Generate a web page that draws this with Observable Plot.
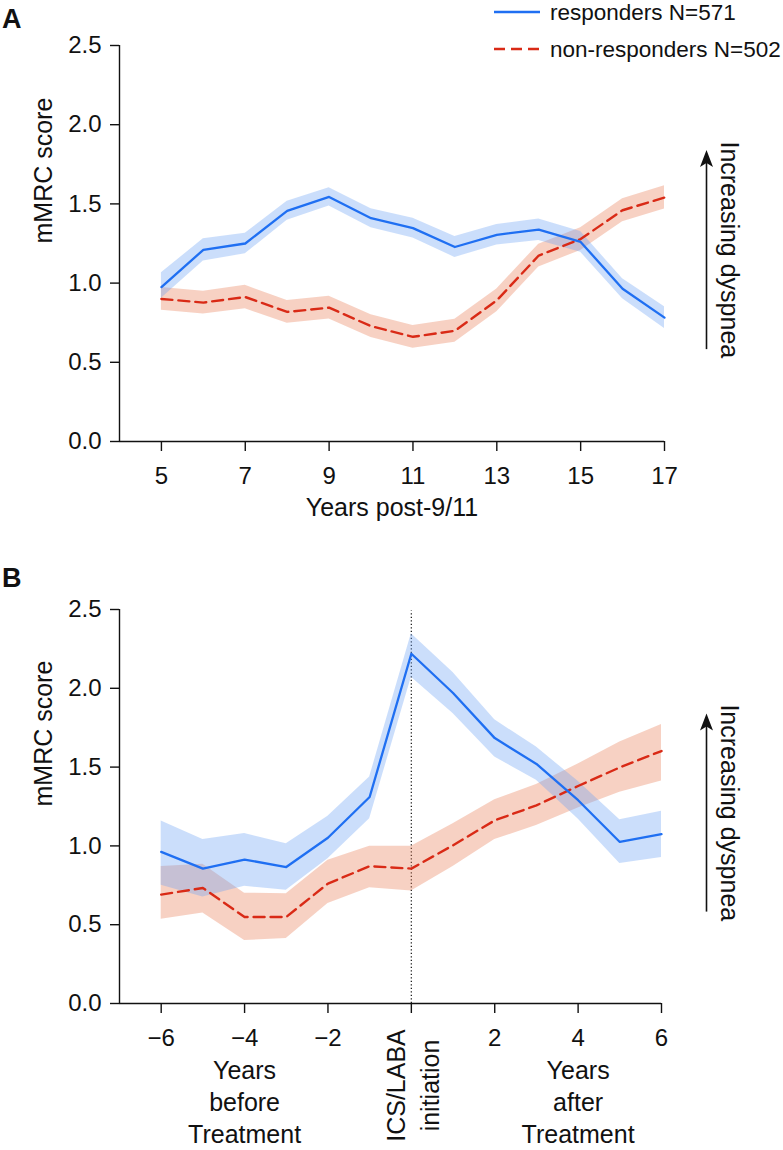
<!DOCTYPE html>
<html>
<head>
<meta charset="utf-8">
<script src="https://cdn.jsdelivr.net/npm/d3@7"></script>
<script src="https://cdn.jsdelivr.net/npm/@observablehq/plot@0.6"></script>
<style>
  body { margin: 0; background: #fff; }
  #wrap { position: relative; width: 783px; height: 1150px; overflow: hidden;
          font-family: "Liberation Sans", Arial, Helvetica, sans-serif; color: #111; }
  .panel { position: absolute; left: 0; }
  #overlay { position: absolute; left: 0; top: 0; pointer-events: none; }
</style>
</head>
<body>
<div id="wrap">
  <div id="panelA" class="panel" style="top:0px"></div>
  <div id="panelB" class="panel" style="top:560px"></div>
  <svg id="overlay" width="783" height="1150"></svg>
</div>
<script>
// ---------------- data ----------------
// Panel A: years post-9/11
const yearsA   = [5, 6, 7, 8, 9, 10, 11, 12, 13, 14, 15, 16, 17];
const respA    = [0.975, 1.21, 1.25, 1.456, 1.544, 1.41, 1.347, 1.228, 1.305, 1.337, 1.26, 0.964, 0.782];
const respALo  = [0.905, 1.14, 1.185, 1.396, 1.486, 1.35, 1.285, 1.162, 1.24, 1.269, 1.195, 0.901, 0.714];
const respAHi  = [1.065, 1.28, 1.315, 1.516, 1.602, 1.47, 1.409, 1.294, 1.37, 1.405, 1.325, 1.027, 0.85];
const nonA     = [0.90, 0.877, 0.912, 0.818, 0.845, 0.728, 0.661, 0.699, 0.891, 1.174, 1.278, 1.46, 1.54];
const nonALo   = [0.828, 0.805, 0.838, 0.746, 0.773, 0.656, 0.589, 0.627, 0.819, 1.102, 1.206, 1.388, 1.468];
const nonAHi   = [0.972, 0.949, 0.986, 0.89, 0.917, 0.80, 0.733, 0.771, 0.963, 1.246, 1.35, 1.532, 1.615];
const xDomainA = [4, 17];
const xTicksA  = [5, 7, 9, 11, 13, 15, 17];
const xTickLabelsA = ["5", "7", "9", "11", "13", "15", "17"];
const xTitleA  = "Years post-9/11";

// Panel B: years relative to ICS/LABA initiation
const yearsB   = [-6, -5, -4, -3, -2, -1, 0, 1, 2, 3, 4, 5, 6];
const respB    = [0.962, 0.856, 0.913, 0.866, 1.052, 1.31, 2.219, 1.97, 1.684, 1.52, 1.29, 1.025, 1.074];
const respBLo  = [0.75, 0.676, 0.744, 0.718, 0.919, 1.173, 2.07, 1.84, 1.564, 1.416, 1.17, 0.888, 0.926];
const respBHi  = [1.158, 1.04, 1.078, 1.014, 1.188, 1.437, 2.346, 2.10, 1.80, 1.627, 1.41, 1.166, 1.22];
const nonB     = [0.691, 0.733, 0.549, 0.549, 0.761, 0.871, 0.856, 1.004, 1.162, 1.257, 1.38, 1.498, 1.602];
const nonBLo   = [0.535, 0.575, 0.40, 0.412, 0.634, 0.735, 0.714, 0.87, 1.04, 1.13, 1.24, 1.34, 1.412];
const nonBHi   = [0.87, 0.883, 0.70, 0.697, 0.909, 0.997, 0.997, 1.14, 1.293, 1.39, 1.52, 1.66, 1.771];
const xDomainB = [-7, 6];
const xTicksB  = [-6, -4, -2, 0, 2, 4, 6];
const xTickLabelsB = ["\u22126", "\u22124", "\u22122", "", "2", "4", "6"];
const phaseX      = [-4, 4];
const phaseLabels = ["Years\nbefore\nTreatment", "Years\nafter\nTreatment"];
const initiationX = [0];
const initiationLabel = "ICS/LABA\ninitiation";

// shared
const yDomain     = [0, 2.5];
const yTicks      = [0, 0.5, 1, 1.5, 2, 2.5];
const yTickLabels = ["0.0", "0.5", "1.0", "1.5", "2.0", "2.5"];
const yTitle      = "mMRC score";
const seriesNames = ["responders N=571", "non-responders N=502"];
const dyspneaLabel = "Increasing dyspnea";
const arrowSpan   = [0.58, 1.84];   // score range covered by the direction arrow

// ---------------- styles ----------------
const FONT = '"Liberation Sans", Arial, Helvetica, sans-serif';
const INK = "#111";
const BLUE = "#1f6ff2", RED = "#d92a16";
const BLUE_BAND = "#6fa3f5", RED_BAND = "#e8805a";
const DASH = "11,6";

function rows(xs, m, lo, hi) {
  return xs.map((x, i) => ({x, y: m[i], lo: lo[i], hi: hi[i]}));
}

const stealth = {
  draw(ctx) {
    ctx.moveTo(0, 0);
    ctx.lineTo(6.5, 17);
    ctx.lineTo(0, 13);
    ctx.lineTo(-6.5, 17);
    ctx.closePath();
  }
};

function panel(o) {
  const xmax = o.xDomain[1];
  const tickFmtX = d => o.xTickLabels[o.xTicks.indexOf(d)];
  const tickFmtY = d => yTickLabels[yTicks.indexOf(d)];
  return Plot.plot({
    width: 783,
    height: o.height,
    marginLeft: 119,
    marginRight: o.marginRight,
    marginTop: o.marginTop,
    marginBottom: o.marginBottom,
    style: {fontFamily: FONT, color: INK, background: "transparent", overflow: "visible"},
    x: {domain: o.xDomain},
    y: {domain: yDomain},
    marks: [
      ...(o.before || []),
      Plot.areaY(o.non, {x: "x", y1: "lo", y2: "hi", fill: RED_BAND, fillOpacity: 0.36}),
      Plot.areaY(o.resp, {x: "x", y1: "lo", y2: "hi", fill: BLUE_BAND, fillOpacity: 0.36}),
      Plot.line(o.non, {x: "x", y: "y", stroke: RED, strokeWidth: 2.4, strokeDasharray: DASH}),
      Plot.line(o.resp, {x: "x", y: "y", stroke: BLUE, strokeWidth: 2.3}),
      Plot.ruleX([o.xDomain[0]], {y1: yDomain[0], y2: yDomain[1], stroke: INK, strokeWidth: 1.4}),
      Plot.ruleY([0], {x1: o.xDomain[0], x2: xmax, stroke: INK, strokeWidth: 1.4}),
      Plot.axisY({ticks: yTicks, tickFormat: tickFmtY, tickSize: 9, tickPadding: 9,
                  fontSize: 24, strokeWidth: 1.4, label: null}),
      Plot.axisX({ticks: o.xTicks, tickFormat: tickFmtX, tickSize: 10, tickPadding: 15,
                  fontSize: 24, strokeWidth: 1.4, label: null}),
      Plot.text([yTitle], {frameAnchor: "left", dx: -76, rotate: -90, fontSize: 25}),
      // direction annotation on the right
      Plot.ruleX([xmax], {y1: arrowSpan[0], y2: arrowSpan[1] - 0.06, dx: o.arrowDx, stroke: INK, strokeWidth: 1.6}),
      Plot.dot([xmax], {x: d => d, y: arrowSpan[1], dx: o.arrowDx, symbol: stealth, fill: INK, stroke: "none"}),
      Plot.text([dyspneaLabel], {x: xmax, y: (arrowSpan[0] + arrowSpan[1]) / 2, dx: o.arrowDx + 22,
                 rotate: 90, fontSize: 25}),
      ...(o.after || [])
    ]
  });
}

// Panel A
document.getElementById("panelA").append(panel({
  resp: rows(yearsA, respA, respALo, respAHi),
  non: rows(yearsA, nonA, nonALo, nonAHi),
  xDomain: xDomainA, xTicks: xTicksA, xTickLabels: xTickLabelsA,
  height: 540, marginTop: 45, marginBottom: 99, marginRight: 119,
  arrowDx: 42,
  after: [
    Plot.text([xTitleA], {frameAnchor: "bottom", dy: 74, fontSize: 25})
  ]
}));

// Panel B
document.getElementById("panelB").append(panel({
  resp: rows(yearsB, respB, respBLo, respBHi),
  non: rows(yearsB, nonB, nonBLo, nonBHi),
  xDomain: xDomainB, xTicks: xTicksB, xTickLabels: xTickLabelsB,
  height: 590, marginTop: 49, marginBottom: 147, marginRight: 122,
  arrowDx: 45,
  before: [
    Plot.ruleX(initiationX, {y1: yDomain[0], y2: yDomain[1] - 0.01, stroke: "#222",
               strokeWidth: 1.3, strokeDasharray: "1.3,2.2"})
  ],
  after: [
    Plot.text(phaseLabels, {x: (d, i) => phaseX[i], text: d => d, frameAnchor: "bottom", dy: 97,
               lineAnchor: "middle", lineHeight: 1.28, fontSize: 25}),
    Plot.text([initiationLabel], {x: (d, i) => initiationX[i], text: d => d, frameAnchor: "bottom", dy: 82,
               rotate: -90, lineAnchor: "middle", lineHeight: 1.33, fontSize: 25})
  ]
}));

// Overlay: panel letters and legend
const ov = d3.select("#overlay").attr("font-family", FONT);
ov.append("text").attr("x", 2).attr("y", 28).attr("font-size", 27).attr("font-weight", "bold")
  .attr("fill", INK).text("A");
ov.append("text").attr("x", 2).attr("y", 587).attr("font-size", 27).attr("font-weight", "bold")
  .attr("fill", INK).text("B");

const legendColors = [BLUE, RED];
const legendDash = [null, DASH];
const lg = ov.append("g");
seriesNames.forEach((name, i) => {
  const y = [12, 49][i];
  lg.append("line").attr("x1", 494).attr("x2", 540).attr("y1", y).attr("y2", y)
    .attr("stroke", legendColors[i]).attr("stroke-width", 2.4)
    .attr("stroke-dasharray", legendDash[i]);
  lg.append("text").attr("x", 550).attr("y", y).attr("dy", "0.35em")
    .attr("font-size", 22.5).attr("fill", INK).text(name);
});
</script>
</body>
</html>
